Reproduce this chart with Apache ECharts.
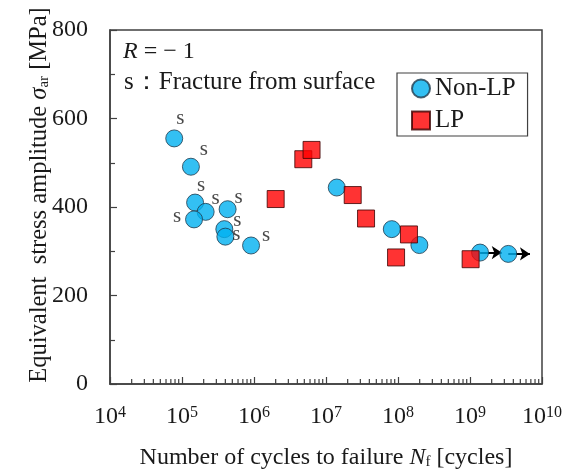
<!DOCTYPE html>
<html>
<head>
<meta charset="utf-8"/>
<title>S-N chart</title>
<script src="https://cdn.jsdelivr.net/npm/echarts@6/dist/echarts.min.js"></script>
<style>
  html, body { margin: 0; padding: 0; background: #fff; }
  #chart { width: 565px; height: 471px; }
</style>
</head>
<body>
<div id="chart"></div>
<script type="text/javascript">
    // Non-LP specimens (cycles, stress amplitude MPa)
    var nonLpCycles = [7.8e4, 1.33e5, 1.52e5, 2.13e5, 1.47e5, 4.3e5, 3.87e5, 4.0e5, 9.1e5, 1.41e7, 8.2e7, 1.98e8, 1.38e9, 3.4e9];
    var nonLpStress = [555, 491, 410, 389, 372, 395, 350, 333, 313, 444, 350, 314, 297, 294];
    // 1 = fracture from surface ("s"), runout = did not fail
    var nonLpSurface = [1, 1, 1, 1, 1, 1, 1, 1, 1, 0, 0, 0, 0, 0];
    var nonLpRunout  = [0, 0, 0, 0, 0, 0, 0, 0, 0, 0, 0, 0, 1, 1];

    // LP specimens
    var lpCycles = [4.84e6, 6.3e6, 2.0e6, 2.35e7, 3.6e7, 1.42e8, 9.4e7, 1.02e9];
    var lpStress = [508, 529, 418, 427, 374, 338, 286, 282];

    var yTicks = [0, 200, 400, 600, 800];
    var xDecades = [4, 5, 6, 7, 8, 9, 10];

    // where the "s" sits next to each surface point (px offsets, style only)
    var sOffset = [[6, -20], [13, -17], [6, -17], [10, -13], [-17, -3], [11, -12], [13, -9], [11, -2], [15, -10]];

    var FONT = 'Liberation Serif';
    var INK = '#1a1a1a';
    var LINE = '#404040';

    var myChart = echarts.init(document.getElementById('chart'), null, {renderer: 'canvas'});

    var nonLpData = nonLpCycles.map(function (n, i) {
        var item = {value: [n, nonLpStress[i]]};
        if (nonLpSurface[i]) {
            item.label = {
                show: true,
                formatter: 's',
                position: 'inside',
                offset: sOffset[i],
                fontFamily: FONT,
                fontSize: 21,
                color: INK
            };
        }
        return item;
    });
    var lpData = lpCycles.map(function (n, i) {
        return [n, lpStress[i]];
    });

    // arrows for run-out specimens
    var arrows = [];
    nonLpCycles.forEach(function (n, i) {
        if (nonLpRunout[i]) {
            arrows.push([{coord: [n, nonLpStress[i]]}, {coord: [n * 2, nonLpStress[i]]}]);
        }
    });

    // minor ticks 2..9 of every decade on the log axis
    var minorVals = [];
    for (var d = xDecades[0]; d < xDecades[xDecades.length - 1]; d++) {
        for (var m = 2; m <= 9; m++) minorVals.push(m * Math.pow(10, d));
    }

    var option = {
        animation: false,
        backgroundColor: '#fff',
        grid: {
            left: 110, right: 23, top: 30, bottom: 87,
            outerBoundsMode: 'none',
            containLabel: false,
            show: true, borderColor: LINE, borderWidth: 1.5,
            backgroundColor: 'transparent'
        },
        legend: {
            orient: 'vertical',
            left: 397, top: 73,
            padding: [3, 12, 3, 14],
            itemGap: 7,
            itemWidth: 18, itemHeight: 18,
            borderColor: LINE, borderWidth: 1.2,
            backgroundColor: '#fff',
            textStyle: {fontFamily: FONT, fontSize: 25, color: INK},
            data: ['Non-LP', 'LP']
        },
        graphic: [
            {
                type: 'text', left: 123, top: 40, z: 10,
                style: {
                    text: '{i|R} = − 1',
                    fontFamily: FONT, fontSize: 24, fill: INK,
                    rich: {i: {fontFamily: FONT, fontSize: 24, fontStyle: 'italic', fill: INK}}
                }
            },
            {
                type: 'text', left: 124, top: 70, z: 10,
                style: {text: 's：Fracture from surface', fontFamily: FONT, fontSize: 25, fill: INK}
            }
        ],
        xAxis: {
            type: 'log',
            logBase: 10,
            min: Math.pow(10, xDecades[0]),
            max: Math.pow(10, xDecades[xDecades.length - 1]),
            splitNumber: xDecades.length - 1,
            name: 'Number of cycles to failure {i|N}{sub|f} [cycles]',
            nameLocation: 'middle',
            nameGap: 62,
            nameMoveOverlap: false,
            nameTextStyle: {
                fontFamily: FONT, fontSize: 24, color: INK,
                rich: {
                    i: {fontFamily: FONT, fontSize: 24, fontStyle: 'italic', color: INK},
                    sub: {fontFamily: FONT, fontSize: 15, color: INK, verticalAlign: 'bottom', padding: [8, 0, 0, 0]}
                }
            },
            axisLine: {lineStyle: {color: LINE, width: 1.5}},
            axisTick: {inside: true, length: 7, lineStyle: {color: LINE, width: 1.2}},
            splitLine: {show: false},
            axisLabel: {
                margin: 21,
                formatter: function (v) {
                    return '{b|10}{sup|' + Math.round(Math.log10(v)) + '}';
                },
                rich: {
                    b: {fontFamily: FONT, fontSize: 24, color: INK, lineHeight: 26, verticalAlign: 'top'},
                    sup: {fontFamily: FONT, fontSize: 16, color: INK, lineHeight: 18, verticalAlign: 'top'}
                }
            }
        },
        yAxis: {
            type: 'value',
            min: yTicks[0],
            max: yTicks[yTicks.length - 1],
            interval: yTicks[1] - yTicks[0],
            name: 'Equivalent  stress amplitude {i|σ}{sub|ar} [MPa]',
            nameLocation: 'middle',
            nameGap: 58,
            nameMoveOverlap: false,
            nameTextStyle: {
                fontFamily: FONT, fontSize: 24.5, color: INK,
                padding: [0, 0, 0, 24],
                rich: {
                    i: {fontFamily: FONT, fontSize: 24.5, fontStyle: 'italic', color: INK},
                    sub: {fontFamily: FONT, fontSize: 15, color: INK, verticalAlign: 'bottom', padding: [8, 0, 0, 0]}
                }
            },
            axisLine: {show: true, lineStyle: {color: LINE, width: 1.5}},
            axisTick: {show: true, inside: true, length: 7, lineStyle: {color: LINE, width: 1.2}},
            minorTick: {show: true, splitNumber: 2, length: 5, lineStyle: {color: LINE, width: 1.2}},
            splitLine: {show: false},
            axisLabel: {margin: 22, fontFamily: FONT, fontSize: 24, color: INK}
        },
        series: [
            {
                name: 'Non-LP',
                type: 'scatter',
                symbol: 'circle',
                symbolSize: 17,
                z: 3,
                itemStyle: {color: '#00b0f0', borderColor: '#1f3b4d', borderWidth: 1},
                data: nonLpData,
                markLine: {
                    z: 1,
                    silent: true,
                    symbol: ['none', 'arrow'],
                    symbolSize: 10,
                    label: {show: false},
                    emphasis: {disabled: true},
                    lineStyle: {color: '#000', width: 2, type: 'solid'},
                    data: arrows
                }
            },
            {
                name: 'LP',
                type: 'scatter',
                symbol: 'rect',
                symbolSize: 17,
                z: 4,
                itemStyle: {color: '#ff0000', borderColor: '#3a0000', borderWidth: 1},
                data: lpData
            },
            {
                type: 'custom',
                silent: true,
                z: 5,
                data: minorVals.map(function (v) { return [v, yTicks[0]]; }),
                renderItem: function (params, api) {
                    var p = api.coord([api.value(0), api.value(1)]);
                    return {
                        type: 'line',
                        shape: {x1: p[0], y1: p[1], x2: p[0], y2: p[1] - 5},
                        style: {stroke: LINE, lineWidth: 1.2}
                    };
                }
            }
        ]
    };
    myChart.setOption(option);
</script>
</body>
</html>
